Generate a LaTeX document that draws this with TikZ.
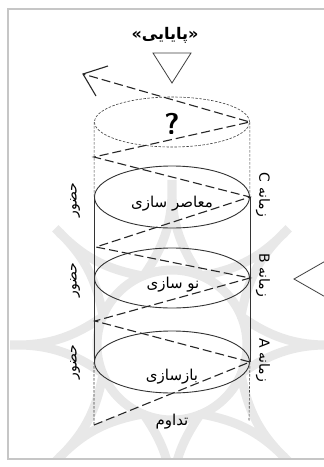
\documentclass[tikz,border=0pt]{standalone}
\usepackage{fontspec}
\usetikzlibrary{shapes.geometric,calc}
\newfontfamily\fa[Script=Arabic]{DejaVu Sans}
\TeXXeTstate=1
\tikzset{
  ring/.style={ellipse, draw=black!80, line width=0.9pt, inner sep=0pt, minimum width=155pt},
  topring/.style={ellipse, draw=black!75, line width=0.6pt, dash pattern=on 2.5pt off 1.5pt, inner sep=0pt, minimum width=155pt, minimum height=50pt},
  helix/.style={draw=black!85, line width=1.1pt, dash pattern=on 9pt off 4pt},
  side/.style={draw=black!80, line width=0.8pt},
  sidedash/.style={draw=black!75, line width=0.6pt, dash pattern=on 2.5pt off 1.5pt},
  tri/.style={draw=black!75, line width=0.8pt},
  lbl/.style={font=\fa\fontsize{15}{17}\selectfont, inner sep=0pt},
  vlbl/.style={font=\fa\fontsize{14}{16}\selectfont, inner sep=0pt},
  wm/.style={draw=black!9, line width=9pt, line cap=round},
}
\begin{document}
\begin{tikzpicture}[x=1pt,y=-1pt]
\useasboundingbox (0,0) rectangle (324,467);
\clip (0,0) rectangle (324,467);
\fill[white] (0,0) rectangle (324,467);
% watermark (faint rosette)
\begin{scope}
\clip (10,150) rectangle (324,458);
\foreach \a in {90,135,...,405} {
  \draw[wm] ($(172,345)+(\a-22:75pt)$) to[bend left=18] ($(172,345)+(\a:165pt)$) to[bend left=18] ($(172,345)+(\a+22:75pt)$);
}
\draw[wm] (172,345) circle[radius=75pt];
\end{scope}
% frame
\draw[gray!45, line width=1.5pt] (8,9) rectangle (340,459);
% triangles
\draw[tri] (153,53) -- (191,53) -- (172,83) -- cycle;
\draw[tri] (336,255) -- (294,279) -- (336,303);
% title
\node[font=\fa\bfseries\fontsize{16}{18}\selectfont, inner sep=0pt] (title) at (165,35) {»\beginR پایایی\endR«};
% rings
\node[topring] (eT) at (172,122) {};
\node[ring, minimum height=62pt] (eC) at (172,197) {};
\node[ring, minimum height=60pt] (eB) at (172,278) {};
\node[ring, minimum height=62pt] (eA) at (172,362) {};
% sides
\coordinate (bl) at (94,425);
\coordinate (br) at (249,421);
\draw[sidedash] (eT.west) -- (eC.west);
\draw[side] (eC.west) -- (eA.west);
\draw[sidedash] (eA.west) -- (bl);
\draw[sidedash] (eT.east) -- (eC.east);
\draw[side] (eC.east) -- (eA.east);
\draw[sidedash] (eA.east) -- (br);
% helix
\coordinate (h1) at (95,321);
\coordinate (h2) at (96,247);
\coordinate (h3) at (94,157);
\coordinate (tip) at (83,74);
\draw[helix] (bl) -- (eA.east) -- (h1) -- (eB.east) -- (h2) -- (eC.east) -- (h3) -- (eT.east) -- (tip);
\coordinate (a1) at (108,66);
\coordinate (a2) at (96,96);
\draw[draw=black!85, line width=1.1pt] (a1) -- (tip) -- (a2);
% texts
\node[font=\sffamily\bfseries\fontsize{30}{32}\selectfont, inner sep=0pt] (q) at (172,124) {?};
\node[lbl] (tC) at (172,204) {\beginR معاصر سازی\endR};
\node[lbl] (tB) at (173,285) {\beginR نو سازی\endR};
\node[lbl] (tA) at (172,377) {\beginR بازسازی\endR};
\node[lbl] (tD) at (172,422) {\beginR تداوم\endR};
\node[vlbl, rotate=-90] (zC) at (263,195) {\beginR زمانه \beginL C\endL\endR};
\node[vlbl, rotate=-90] (zB) at (263,275) {\beginR زمانه \beginL B\endL\endR};
\node[vlbl, rotate=-90] (zA) at (263,360) {\beginR زمانه \beginL A\endL\endR};
\node[vlbl, rotate=90] (p1) at (75,200) {\beginR حضور\endR};
\node[vlbl, rotate=90] (p2) at (75,280) {\beginR حضور\endR};
\node[vlbl, rotate=90] (p3) at (75,362) {\beginR حضور\endR};
\end{tikzpicture}
\end{document}
